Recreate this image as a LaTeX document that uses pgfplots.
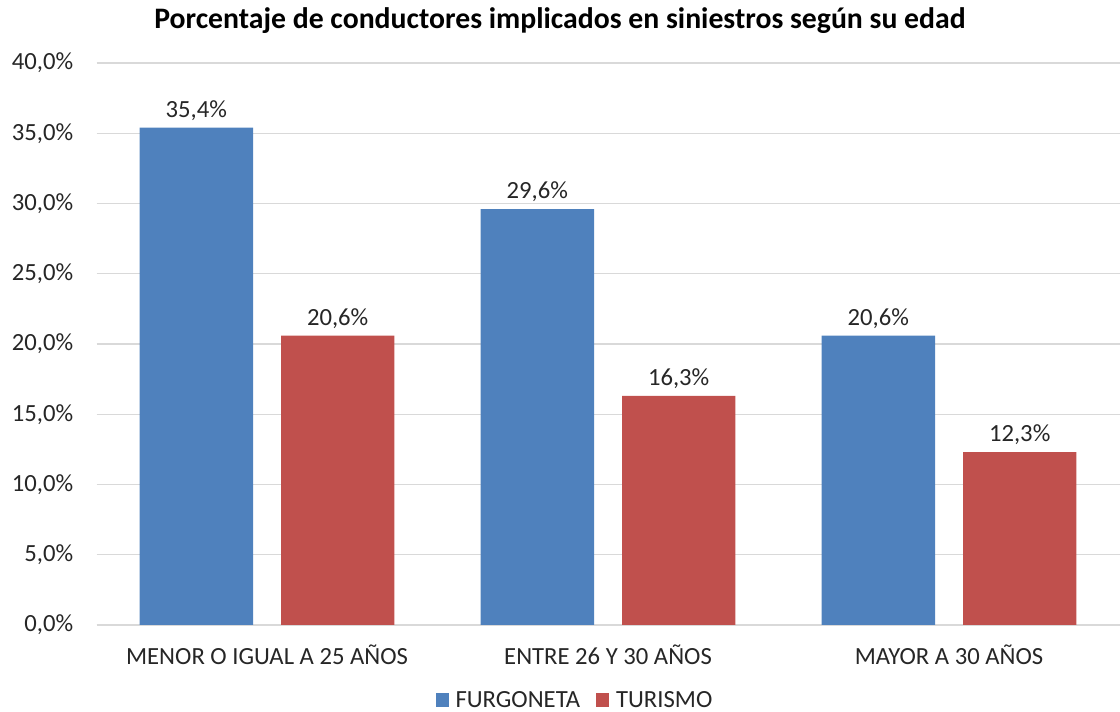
\documentclass[border=0pt]{standalone}
\usepackage{fontspec}
\setmainfont{Carlito}
\usepackage{pgfplots}
\pgfplotsset{compat=1.18}
\definecolor{cblue}{HTML}{4F81BD}
\definecolor{cred}{HTML}{C0504D}
\definecolor{cgrid}{HTML}{D9D9D9}
\definecolor{ctext}{HTML}{262626}
\begin{document}
\begin{tikzpicture}
\path[use as bounding box] (-72.4pt,-65.25pt) rectangle (767.6pt,468.75pt);
\begin{axis}[
  at={(0,0)}, anchor=south west,
  scale only axis, width=767.25pt, height=421.5pt,
  xmin=-0.5, xmax=2.5, ymin=0, ymax=40,
  xtick={0,1,2},
  xticklabels={MENOR O IGUAL A 25 AÑOS, ENTRE 26 Y 30 AÑOS, MAYOR A 30 AÑOS},
  ytick={0,5,...,40},
  yticklabel={\pgfmathprintnumber[fixed,fixed zerofill,precision=1,use comma]{\tick}\%},
  /pgf/number format/assume math mode=true,
  ymajorgrids, grid style={cgrid, line width=1pt},
  axis y line*=left, axis x line*=bottom,
  y axis line style={draw=none},
  x axis line style={cgrid, line width=1pt, -},
  major tick length=0pt,
  tick label style={font=\fontsize{18.5}{22}\selectfont, text=ctext},
  xticklabel style={yshift=-11pt},
  yticklabel style={xshift=-14pt},
  ybar, bar width=85pt,
  nodes near coords={\pgfmathprintnumber[fixed,fixed zerofill,precision=1,use comma]{\pgfplotspointmeta}\%},
  nodes near coords style={font=\fontsize{18.5}{22}\selectfont, text=ctext, /pgf/number format/assume math mode=true, yshift=2pt},
  legend style={at={(0.468,-0.1335)}, anchor=center, draw=none, legend columns=2,
    font=\fontsize{18.5}{22}\selectfont, text=ctext,
    /tikz/every odd column/.append style={column sep=3pt},
    /tikz/every even column/.append style={column sep=10pt}},
  legend image code/.code={\fill[#1] (0pt,-5pt) rectangle (10pt,5pt);},
  clip=false,
]
\addplot[fill=cblue, draw=none, bar shift=-53pt] coordinates {(0,35.4) (1,29.6) (2,20.6)};
\addplot[fill=cred, draw=none, bar shift=53pt] coordinates {(0,20.6) (1,16.3) (2,12.3)};
\legend{FURGONETA, TURISMO}
\end{axis}
\node[font=\bfseries\fontsize{22.3}{26}\selectfont, text=black] at (347.6pt,453.5pt) {Porcentaje de conductores implicados en siniestros según su edad};
\end{tikzpicture}
\end{document}
